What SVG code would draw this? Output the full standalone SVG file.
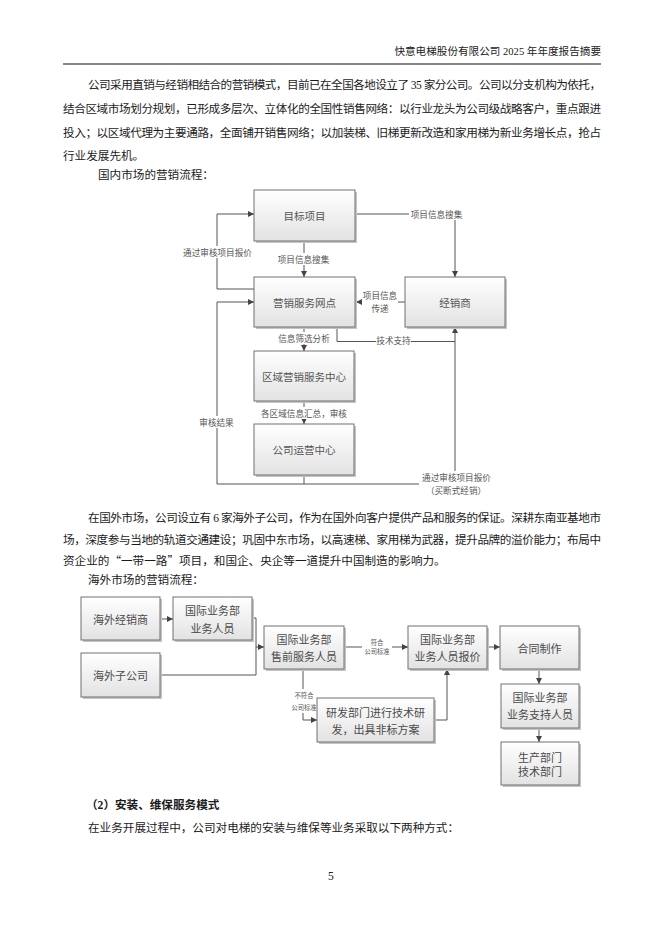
<svg xmlns="http://www.w3.org/2000/svg" width="662" height="936" viewBox="0 0 662 936">
<style>
.t{font-family:"Liberation Serif","Noto Sans CJK SC",serif;font-size:11.6px;fill:#1a1a1a}
.hd{font-family:"Liberation Serif","Noto Sans CJK SC",serif;font-size:10.6px;fill:#222}
.q{font-family:"Noto Sans CJK SC",sans-serif}
.box{fill:url(#g);stroke:#707070;stroke-width:1}
.sh{fill:#c4c4c4}
.bt{font-family:"Noto Sans CJK SC",sans-serif;font-size:10.5px;fill:#555;text-anchor:middle;dominant-baseline:central}
.bt2{font-family:"Noto Sans CJK SC",sans-serif;font-size:11px;fill:#4a4a4a;text-anchor:middle;dominant-baseline:central}
.lb{font-family:"Noto Sans CJK SC",sans-serif;font-size:8.6px;fill:#555;text-anchor:middle;dominant-baseline:central}
.sl{font-family:"Noto Sans CJK SC",sans-serif;font-size:6.3px;fill:#555;text-anchor:middle;dominant-baseline:central}
.ln{fill:none;stroke:#555;stroke-width:1}
.bg{fill:#fff}
</style>
<defs>
<linearGradient id="g" x1="0" y1="0" x2="0" y2="1">
<stop offset="0" stop-color="#ffffff"/>
<stop offset="1" stop-color="#e2e2e2"/>
</linearGradient>
<marker id="a" viewBox="0 0 10 10" refX="10" refY="5" markerWidth="6" markerHeight="6" orient="auto" markerUnits="userSpaceOnUse">
<path d="M0,0 L10,5 L0,10 z" fill="#444"/>
</marker>
</defs>
<rect width="662" height="936" fill="#fff"/>

<text class="hd" x="601" y="55" text-anchor="end">快意电梯股份有限公司 2025 年年度报告摘要</text>
<line x1="63" y1="64" x2="601" y2="64" stroke="#111" stroke-width="1.2"/>

<text class="t" x="88" y="89" textLength="513" lengthAdjust="spacing">公司采用直销与经销相结合的营销模式，目前已在全国各地设立了 35 家分公司。公司以分支机构为依托，</text>
<text class="t" x="63" y="113" textLength="538" lengthAdjust="spacing">结合区域市场划分规划，已形成多层次、立体化的全国性销售网络：以行业龙头为公司级战略客户，重点跟进</text>
<text class="t" x="63" y="137" textLength="538" lengthAdjust="spacing">投入；以区域代理为主要通路，全面铺开销售网络；以加装梯、旧梯更新改造和家用梯为新业务增长点，抢占</text>
<text class="t" x="63" y="160">行业发展先机。</text>
<text class="t" x="98" y="179">国内市场的营销流程：</text>

<g id="connectors1">
<path class="ln" d="M356,214 H455 V277" marker-end="url(#a)"/>
<path class="ln" d="M304,241 V277" marker-end="url(#a)"/>
<path class="ln" d="M254,289 H217 V214 H254" marker-end="url(#a)"/>
<path class="ln" d="M405,302 H356" marker-end="url(#a)"/>
<path class="ln" d="M217,484 V302 H254" marker-end="url(#a)"/>
<path class="ln" d="M217,484 H455 V327" marker-end="url(#a)"/>
<path class="ln" d="M304,476 V484"/>
<path class="ln" d="M304,327 V351" marker-end="url(#a)"/>
<path class="ln" d="M337,327 V341.5 H455"/>
<path class="ln" d="M304,401 V424" marker-end="url(#a)"/>
<rect class="bg" x="409" y="208" width="55" height="12"/>
<text class="lb" x="436.5" y="214">项目信息搜集</text>
<rect class="bg" x="277" y="253" width="53" height="12"/>
<text class="lb" x="303.5" y="259">项目信息搜集</text>
<rect class="bg" x="180" y="246" width="75" height="12"/>
<text class="lb" x="217.5" y="252">通过审核项目报价</text>
<rect class="bg" x="362" y="289" width="36" height="25"/>
<text class="lb" x="380" y="295">项目信息</text>
<text class="lb" x="380" y="308">传递</text>
<rect class="bg" x="199" y="416" width="35" height="12"/>
<text class="lb" x="216.5" y="422">审核结果</text>
<rect class="bg" x="419" y="471" width="75" height="26"/>
<text class="lb" x="456.5" y="477">通过审核项目报价</text>
<text class="lb" x="456" y="490">（买断式经销）</text>
<rect class="bg" x="278" y="332" width="52" height="12"/>
<text class="lb" x="304" y="338">信息筛选分析</text>
<rect class="bg" x="376" y="334" width="35" height="12"/>
<text class="lb" x="393.5" y="340">技术支持</text>
<rect class="bg" x="260" y="407" width="88" height="12"/>
<text class="lb" x="304" y="413">各区域信息汇总，审核</text>
</g>

<g id="n-mubiao">
<rect class="sh" x="256" y="192" width="101" height="51"/>
<rect class="box" x="254" y="190" width="101" height="51"/>
<text class="bt" x="304.5" y="215.5">目标项目</text>
</g>
<g id="n-wangdian">
<rect class="sh" x="256" y="279" width="101" height="50"/>
<rect class="box" x="254" y="277" width="101" height="50"/>
<text class="bt" x="304.5" y="302">营销服务网点</text>
</g>
<g id="n-jingxiao">
<rect class="sh" x="407" y="279" width="100" height="50"/>
<rect class="box" x="405" y="277" width="100" height="50"/>
<text class="bt" x="455" y="302">经销商</text>
</g>
<g id="n-quyu">
<rect class="sh" x="256" y="353" width="100" height="50"/>
<rect class="box" x="254" y="351" width="100" height="50"/>
<text class="bt" x="304" y="376">区域营销服务中心</text>
</g>
<g id="n-yunying">
<rect class="sh" x="256" y="426" width="100" height="51"/>
<rect class="box" x="254" y="424" width="100" height="51"/>
<text class="bt" x="304" y="449.5">公司运营中心</text>
</g>

<text class="t" x="88" y="522" textLength="513" lengthAdjust="spacing">在国外市场，公司设立有 6 家海外子公司，作为在国外向客户提供产品和服务的保证。深耕东南亚基地市</text>
<text class="t" x="63" y="544" textLength="538" lengthAdjust="spacing">场，深度参与当地的轨道交通建设；巩固中东市场，以高速梯、家用梯为武器，提升品牌的溢价能力；布局中</text>
<text class="t" x="63" y="565">资企业的<tspan class="q">“</tspan>一带一路<tspan class="q">”</tspan>项目，和国企、央企等一道提升中国制造的影响力。</text>
<text class="t" x="88" y="584">海外市场的营销流程：</text>

<g id="connectors2">
<path class="ln" d="M160,619 H173" marker-end="url(#a)"/>
<path class="ln" d="M252,618 H256 V647 H264" marker-end="url(#a)"/>
<path class="ln" d="M160,675 H256 V647"/>
<path class="ln" d="M344,647 H408" marker-end="url(#a)"/>
<path class="ln" d="M487,647 H500" marker-end="url(#a)"/>
<path class="ln" d="M539,669 V684" marker-end="url(#a)"/>
<path class="ln" d="M539,728 V742" marker-end="url(#a)"/>
<path class="ln" d="M303,669 V720 H317" marker-end="url(#a)"/>
<path class="ln" d="M434,720 H447 V669" marker-end="url(#a)"/>
<rect class="bg" x="362" y="638" width="30" height="18"/>
<text class="sl" x="377" y="642">符合</text>
<text class="sl" x="377" y="651">公司标准</text>
<rect class="bg" x="289" y="689" width="29" height="24"/>
<text class="sl" x="304" y="695">不符合</text>
<text class="sl" x="304" y="707">公司标准</text>
</g>

<g id="n-haiwaijx">
<rect class="sh" x="83" y="599" width="79" height="43"/>
<rect class="box" x="81" y="597" width="79" height="43"/>
<text class="bt2" x="120.5" y="618.5">海外经销商</text>
</g>
<g id="n-yewu">
<rect class="sh" x="175" y="599" width="79" height="43"/>
<rect class="box" x="173" y="597" width="79" height="43"/>
<text class="bt2" x="212.5" y="610">国际业务部</text>
<text class="bt2" x="212.5" y="627.5">业务人员</text>
</g>
<g id="n-haiwaizi">
<rect class="sh" x="83" y="655" width="79" height="44"/>
<rect class="box" x="81" y="653" width="79" height="44"/>
<text class="bt2" x="120.5" y="675">海外子公司</text>
</g>
<g id="n-shouqian">
<rect class="sh" x="266" y="628" width="80" height="43"/>
<rect class="box" x="264" y="626" width="80" height="43"/>
<text class="bt2" x="304" y="638.5">国际业务部</text>
<text class="bt2" x="304" y="656">售前服务人员</text>
</g>
<g id="n-baojia">
<rect class="sh" x="410" y="628" width="79" height="43"/>
<rect class="box" x="408" y="626" width="79" height="43"/>
<text class="bt2" x="447.5" y="638.5">国际业务部</text>
<text class="bt2" x="447.5" y="656">业务人员报价</text>
</g>
<g id="n-hetong">
<rect class="sh" x="502" y="628" width="79" height="43"/>
<rect class="box" x="500" y="626" width="79" height="43"/>
<text class="bt2" x="539.5" y="648">合同制作</text>
</g>
<g id="n-zhichi">
<rect class="sh" x="503" y="686" width="78" height="44"/>
<rect class="box" x="501" y="684" width="78" height="44"/>
<text class="bt2" x="540" y="697">国际业务部</text>
<text class="bt2" x="540" y="714">业务支持人员</text>
</g>
<g id="n-shengchan">
<rect class="sh" x="503" y="744" width="78" height="43"/>
<rect class="box" x="501" y="742" width="78" height="43"/>
<text class="bt2" x="540" y="756.5">生产部门</text>
<text class="bt2" x="540" y="771">技术部门</text>
</g>
<g id="n-yanfa">
<rect class="sh" x="319" y="700" width="117" height="44"/>
<rect class="box" x="317" y="698" width="117" height="44"/>
<text class="bt2" x="375.5" y="711.5">研发部门进行技术研</text>
<text class="bt2" x="375.5" y="728.5">发，出具非标方案</text>
</g>

<text class="t" x="86" y="809" font-weight="bold">（2）安装、维保服务模式</text>
<text class="t" x="88" y="832">在业务开展过程中，公司对电梯的安装与维保等业务采取以下两种方式：</text>
<text class="t" x="331" y="880" text-anchor="middle">5</text>
</svg>
